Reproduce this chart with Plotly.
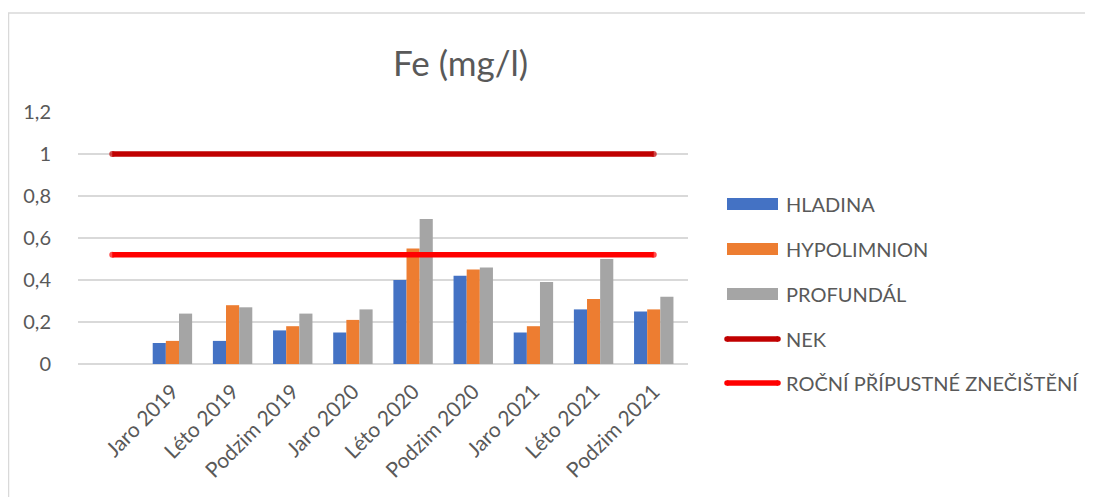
import plotly.graph_objects as go

# ---- data ----
categories = [" ", "Jaro 2019", "Léto 2019", "Podzim 2019", "Jaro 2020", "Léto 2020",
              "Podzim 2020", "Jaro 2021", "Léto 2021", "Podzim 2021"]
hladina = [None, 0.10, 0.11, 0.16, 0.15, 0.40, 0.42, 0.15, 0.26, 0.25]
hypolimnion = [None, 0.11, 0.28, 0.18, 0.21, 0.55, 0.45, 0.18, 0.31, 0.26]
profundal = [None, 0.24, 0.27, 0.24, 0.26, 0.69, 0.46, 0.39, 0.50, 0.32]
nek = [1.0] * 10
rocni = [0.52] * 10
y_ticks = [0, 0.2, 0.4, 0.6, 0.8, 1.0, 1.2]
title_text = "Fe (mg/l)"

bar_series = [("HLADINA", hladina, "#4472C4"),
              ("HYPOLIMNION", hypolimnion, "#ED7D31"),
              ("PROFUNDÁL", profundal, "#A5A5A5")]
line_series = [("NEK", nek, "#C00000"),
               ("ROČNÍ PŘÍPUSTNÉ ZNEČIŠTĚNÍ", rocni, "#FF0000")]

FONT = "Lato"
TXT = "#595959"

# page has an 8px body margin; work in reference pixels and shift
OFF = 8
W, H = 1093 - OFF, 497 - OFF
PL, PR, PT, PB = 78, 688, 112, 364  # plot area in reference pixels
L, R, T, B = PL - OFF, W - (PR - OFF), PT - OFF, H - (PB - OFF)
pw = W - L - R
ph = H - T - B


def px2x(x):
    return (x - OFF - L) / pw


def px2y(y):
    return (H - B - (y - OFF)) / ph


fig = go.Figure()
for name, vals, col in bar_series:
    fig.add_trace(go.Bar(x=categories, y=vals, name=name, marker_color=col,
                         marker_line_width=0, showlegend=False))
n = len(categories)
end_sizes = [6] + [0] * (n - 2) + [6]
for name, vals, col in line_series:
    fig.add_trace(go.Scatter(x=categories, y=vals, name=name, mode="lines+markers",
                             line=dict(color=col, width=5.5),
                             marker=dict(size=end_sizes, color=col, line=dict(width=0)),
                             showlegend=False))

shapes = []
annotations = []
# chart border
shapes.append(dict(type="rect", xref="paper", yref="paper",
                   x0=px2x(8.5), x1=px2x(1110), y0=px2y(520), y1=px2y(13),
                   line=dict(color="#D9D9D9", width=1.5), layer="below"))

# manual legend
row_y = [204, 249, 294, 339, 383]
items = [(n_, c, "bar") for n_, _, c in bar_series] + [(n_, c, "line") for n_, _, c in line_series]
for (name, col, kind), yy in zip(items, row_y):
    if kind == "bar":
        shapes.append(dict(type="rect", xref="paper", yref="paper",
                           x0=px2x(727), x1=px2x(778), y0=px2y(yy + 6), y1=px2y(yy - 6),
                           fillcolor=col, line=dict(width=0)))
    else:
        shapes.append(dict(type="line", xref="paper", yref="paper",
                           x0=px2x(727), x1=px2x(778), y0=px2y(yy), y1=px2y(yy),
                           line=dict(color=col, width=5.5)))
        for cx in (727, 778):
            shapes.append(dict(type="circle", xref="paper", yref="paper",
                               x0=px2x(cx - 2.75), x1=px2x(cx + 2.75),
                               y0=px2y(yy + 2.75), y1=px2y(yy - 2.75),
                               fillcolor=col, line=dict(width=0)))
    annotations.append(dict(text=name, xref="paper", yref="paper",
                            x=px2x(784), y=px2y(yy), xanchor="left", yanchor="middle",
                            showarrow=False, font=dict(family=FONT, size=20, color=TXT)))

annotations.append(dict(text=title_text, xref="paper", yref="paper",
                        x=px2x(460), y=px2y(62), xanchor="center", yanchor="middle",
                        showarrow=False, font=dict(family=FONT, size=35, color=TXT)))

fig.update_layout(
    width=W, height=H,
    margin=dict(l=L, r=R, t=T, b=B, pad=0),
    paper_bgcolor="white", plot_bgcolor="white",
    barmode="group", bargap=0.345, bargroupgap=0,
    separators=", ",
    font=dict(family=FONT, size=20, color=TXT),
    shapes=shapes, annotations=annotations,
    xaxis=dict(type="category", categoryorder="array", categoryarray=categories,
               tickangle=-45, showgrid=False, showline=False, zeroline=False,
               ticks="outside", ticklen=6, tickcolor="rgba(0,0,0,0)",
               tickfont=dict(family=FONT, size=21, color=TXT)),
    yaxis=dict(range=[0, 1.2], tickvals=y_ticks, showgrid=True,
               gridcolor="#D9D9D9", gridwidth=1.5, zeroline=True,
               zerolinecolor="#D9D9D9", zerolinewidth=1.5, showline=False,
               ticks="outside", ticklen=22, tickcolor="rgba(0,0,0,0)",
               tickfont=dict(family=FONT, size=20, color=TXT)),
)

fig.write_html("out.html")
